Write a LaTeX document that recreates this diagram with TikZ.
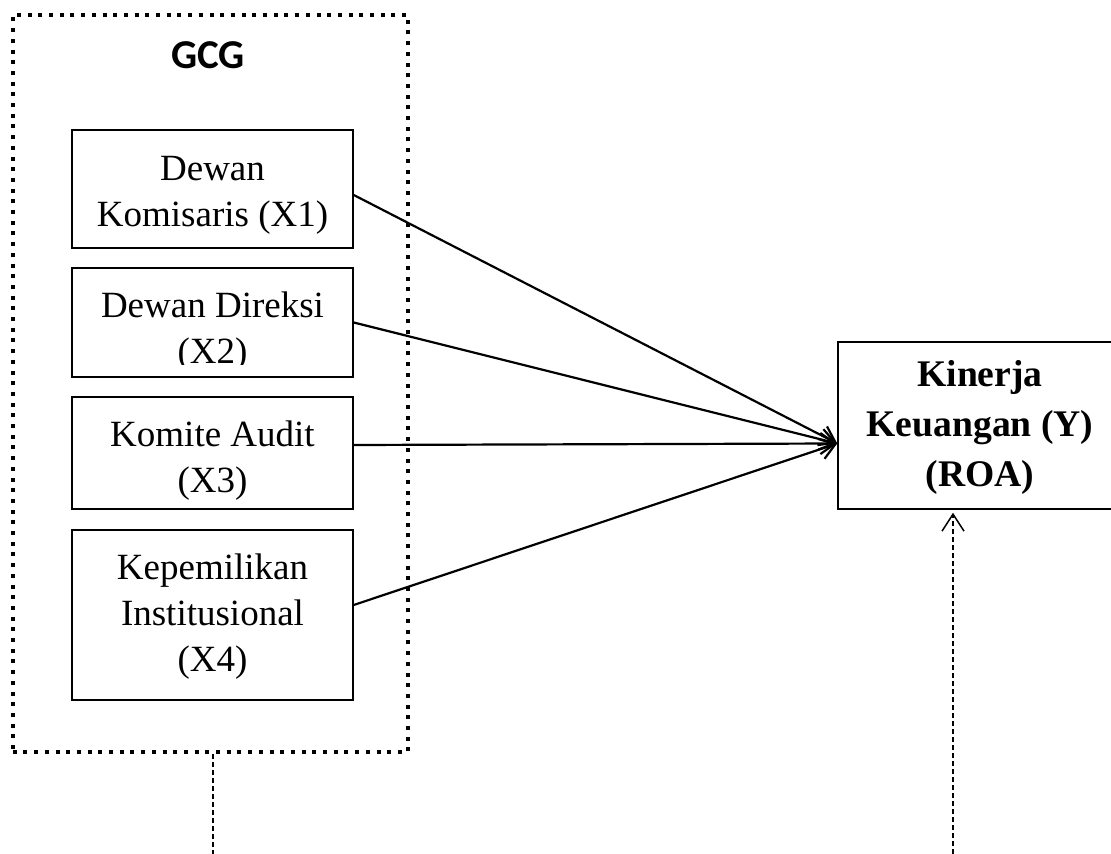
\documentclass[tikz,border=0pt]{standalone}
\usepackage{fontspec}
\setmainfont{Liberation Serif}
\newfontfamily\judulfont{Carlito}
\usetikzlibrary{arrows.meta}
\begin{document}
\begin{tikzpicture}[x=0.5pt,y=-0.5pt,
		every node/.style={inner sep=0pt, align=center}]
	\tikzstyle{kotak}=[draw, line width=0.75pt, minimum width=140.5pt];
	\tikzstyle{teks}=[font=\fontsize{18.5}{23}\selectfont];
	\tikzstyle{tebal}=[font=\fontsize{18.8}{25}\selectfont\bfseries];
	\tikzstyle{bingkai}=[draw, line width=2pt, dash pattern=on 2pt off 3.35pt];
	\tikzstyle{panah}=[line width=1.1pt, -{Straight Barb[length=7.5pt,width=10.5pt]}];
	\tikzstyle{putus}=[line width=0.75pt, dash pattern=on 2.5pt off 1.5pt];
	\useasboundingbox (0,0) rectangle (1111,854);
	\clip (0,0) rectangle (1111,854);
	% kelompok GCG
	\node[bingkai, minimum width=197.65pt, minimum height=368.5pt] (gcg) at (210.35,383.5) {};
	\node[font=\fontsize{20.5}{22}\selectfont\judulfont\bfseries] (judul) at (208,55) {GCG};
	\node[kotak, minimum height=59pt] (x1) at (212.5,189) {};
	\node[kotak, minimum height=54.5pt] (x2) at (212.5,322.5) {};
	\node[kotak, minimum height=56pt] (x3) at (212.5,453) {};
	\node[kotak, minimum height=85pt] (x4) at (212.5,615) {};
	\node[teks] (x1t) at (212.5,195) {Dewan\\Komisaris (X1)};
	\begin{scope}
		\clip (72,268) rectangle (353,365);
		\node[teks] (x2t) at (212.5,332) {Dewan Direksi\\(X2)};
	\end{scope}
	\node[teks] (x3t) at (212.5,461) {Komite Audit\\(X3)};
	\node[teks] (x4t) at (212.5,617) {Kepemilikan\\Institusional\\(X4)};
	% variabel Y
	\node[kotak, minimum width=142pt, minimum height=83.5pt] (roa) at (980,425.5) {};
	\node[tebal] (roat) at (980,427) {Kinerja\\Keuangan (Y)\\(ROA)};
	\coordinate (tuju) at ([yshift=-9pt]roa.west);
	\draw[panah] ([yshift=-3pt]x1.east) -- (tuju);
	\draw[panah] (x2.east) -- (tuju);
	\draw[panah] ([yshift=4pt]x3.east) -- (tuju);
	\draw[panah] ([yshift=5pt]x4.east) -- (tuju);
	% garis putus-putus bawah
	\coordinate (kiribawah) at (213,854);
	\coordinate (kananbawah) at (953,854);
	\draw[putus] (kiribawah |- gcg.south) -- (kiribawah);
	\draw[putus, -{Straight Barb[length=8.5pt,width=11pt]}] (kananbawah) -- ([yshift=-1.5pt]kananbawah |- roa.south);
\end{tikzpicture}
\end{document}
